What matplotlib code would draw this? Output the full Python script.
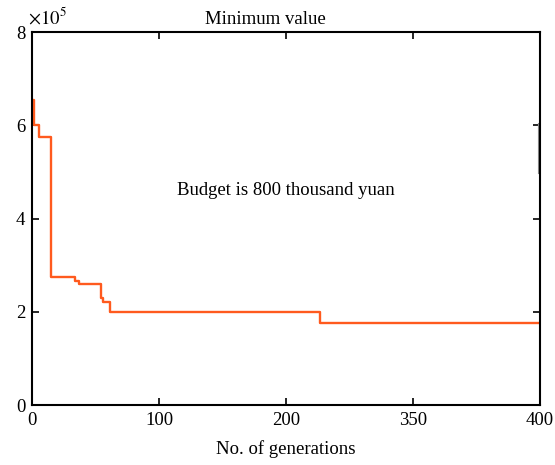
import matplotlib
matplotlib.use("Agg")
import matplotlib.pyplot as plt

plt.rcParams["font.family"] = ["Liberation Serif", "DejaVu Serif"]
plt.rcParams["mathtext.fontset"] = "stix"

# best objective found so far, per generation
generations = [0, 1.6, 5.5, 14.5, 34, 37, 54, 55.5, 61, 227, 400]
min_value = [655000, 600000, 575000, 275000, 266000, 260000, 230000, 222000,
             200000, 176000, 176000]

# short stray segment near the right border
stray_x = [398.2, 398.2]
stray_y = [497000, 605000]

x_ticks = [0, 100, 200, 300, 400]
x_tick_labels = ["0", "100", "200", "350", "400"]
y_ticks = [0, 2, 4, 6, 8]

SCALE = 1e5

fig = plt.figure(figsize=(5.55, 4.65), dpi=100)
ax = fig.add_axes([0.058, 0.129, 0.915, 0.802])

ax.plot(generations, [v / SCALE for v in min_value], drawstyle="steps-post",
        color="#ff5a1e", lw=1.7)
ax.plot(stray_x, [v / SCALE for v in stray_y], color="#888888", lw=0.8)

ax.set_xlim(0, 400)
ax.set_ylim(0, 8)
ax.set_xticks(x_ticks)
ax.set_xticklabels(x_tick_labels)
ax.set_yticks(y_ticks)
ax.tick_params(direction="in", length=5, width=1.2, labelsize=13.5,
               top=True, right=True, pad=5)
for spine in ax.spines.values():
    spine.set_linewidth(1.5)

ax.set_xlabel("No. of generations", fontsize=13.5, labelpad=8)
ax.set_title("Minimum value", fontsize=13.5, pad=6, x=0.46)
ax.text(-0.008, 1.012, r"$\times10^5$", transform=ax.transAxes, fontsize=13.5,
        ha="left", va="bottom")
ax.text(0.5, 0.575, "Budget is 800 thousand yuan", transform=ax.transAxes,
        fontsize=13.5, ha="center", va="center")

fig.savefig("out.png", dpi=100)
